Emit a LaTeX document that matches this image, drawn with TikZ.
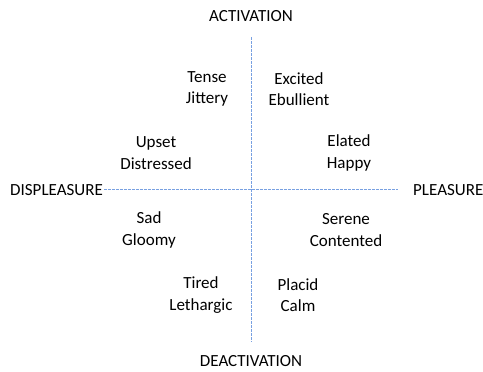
\documentclass[tikz,border=0pt]{standalone}
\usepackage{fontspec}
\setmainfont{Carlito}
\definecolor{axisblue}{RGB}{120,160,225}
\begin{document}
\begin{tikzpicture}[x=1pt,y=-1pt,
  lbl/.style={font=\fontsize{17}{21.5}\selectfont, text=black, inner sep=0pt, align=center},
  axisline/.style={draw=axisblue, line width=1pt, dash pattern=on 2.5pt off 1.5pt}]
\useasboundingbox (0,0) rectangle (483,372);
\node[lbl] (act) at (251,16) {ACTIVATION};
\node[lbl] (deact) at (251,361) {DEACTIVATION};
\node[lbl, anchor=west] (displ) at (10,190) {DISPLEASURE};
\node[lbl, anchor=west] (pleas) at (413,190) {PLEASURE};
\coordinate (vtop) at (251,37);
\coordinate (vbot) at (251,342);
\coordinate (hleft) at (104,189);
\coordinate (hright) at (398,189);
\draw[axisline] (vtop) -- (vbot);
\draw[axisline] (hleft) -- (hright);
\node[lbl] (tense) at (207,89) {Tense\\Jittery};
\node[lbl] (excited) at (299,89) {Excited\\Ebullient};
\node[lbl] (upset) at (156,153) {Upset\\Distressed};
\node[lbl] (elated) at (349,153) {Elated\\Happy};
\node[lbl] (sad) at (149,230) {Sad\\Gloomy};
\node[lbl] (serene) at (346,230) {Serene\\Contented};
\node[lbl] (tired) at (201,295) {Tired\\Lethargic};
\node[lbl] (placid) at (298,295) {Placid\\Calm};
\end{tikzpicture}
\end{document}
